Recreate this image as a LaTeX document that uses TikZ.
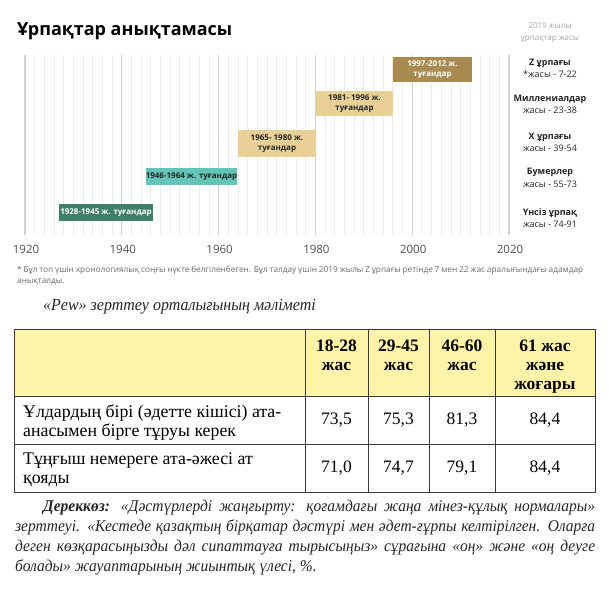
\documentclass[tikz,border=0pt]{standalone}
\usepackage{fontspec}
\setmainfont{Liberation Serif}
\newfontfamily\os{Open Sans}
\newfontfamily\narrowserif[FakeStretch=0.94]{Liberation Serif}
\definecolor{goldbar}{HTML}{A98B4F}
\definecolor{tanbar}{HTML}{E9D096}
\definecolor{tealbar}{HTML}{63C5B7}
\definecolor{greenbar}{HTML}{3F7F6C}
\definecolor{hdrfill}{HTML}{FFF4AA}
\definecolor{gridminor}{HTML}{EDEDED}
\definecolor{gridmajor}{HTML}{D2D2D2}
\definecolor{tblline}{HTML}{3A3A3A}
\definecolor{darktxt}{HTML}{262626}
\begin{document}
\begin{tikzpicture}[x=1pt,y=-1pt,
  minorline/.style={draw=gridminor,line width=0.8pt},
  majorline/.style={draw=gridmajor,line width=1.3pt},
  barbox/.style={rectangle,inner sep=0pt,align=center,font=\os\bfseries\fontsize{8}{10}\selectfont},
  yearlbl/.style={font=\os\fontsize{11.5}{13}\selectfont,text=black!68,inner sep=0pt},
  genname/.style={font=\os\bfseries\fontsize{9}{11}\selectfont,text=darktxt,inner sep=0pt},
  genage/.style={font=\os\fontsize{9}{11}\selectfont,text=darktxt,inner sep=0pt},
  hdrtxt/.style={font=\bfseries\fontsize{17.5}{19}\selectfont,align=center,inner sep=0pt,anchor=north},
  valtxt/.style={font=\fontsize{17.5}{19}\selectfont,inner sep=0pt},
  rowtxt/.style={font=\fontsize{17.8}{19}\selectfont,align=left,inner sep=0pt,anchor=north west},
  tbl/.style={draw=tblline,line width=0.9pt}
]
\useasboundingbox[fill=white] (0,0) rectangle (609,593);

% title
\node[anchor=base west,inner sep=0pt,font=\os\bfseries\fontsize{18}{20}\selectfont] (title) at (17,36) {Ұрпақтар анықтамасы};

% right column header
\node[inner sep=0pt,font=\os\fontsize{8}{10}\selectfont,text=black!35] (hd1) at (550,26) {2019 жылы};
\node[inner sep=0pt,font=\os\fontsize{8}{10}\selectfont,text=black!35] (hd2) at (550,39) {ұрпақтар жасы};

% grid
\foreach \i in {0,...,50} {\draw[minorline] ({25+\i*9.68},55) -- ({25+\i*9.68},235);}
\foreach \i/\yr in {0/1920,1/1940,2/1960,3/1980,4/2000,5/2020} {
  \draw[majorline] ({25+\i*96.8},55) -- ({25+\i*96.8},235);
  \node[yearlbl] (y\yr) at ({26+\i*96.8},249) {\yr};
}

% bars
\node[barbox,fill=goldbar,text=white,minimum width=79pt,minimum height=25pt] (b5) at (432.5,69.5) {1997-2012 ж.\\туғандар};
\node[barbox,fill=tanbar,text=darktxt,minimum width=77pt,minimum height=25pt] (b4) at (354.5,103.5) {1981- 1996 ж.\\туғандар};
\node[barbox,fill=tanbar,text=darktxt,minimum width=78pt,minimum height=27pt] (b3) at (277,143.5) {1965- 1980 ж.\\туғандар};
\node[barbox,fill=tealbar,text=darktxt,minimum width=91pt,minimum height=17pt] (b2) at (191.5,176.5) {1946-1964 ж. туғандар};
\node[barbox,fill=greenbar,text=white,minimum width=94pt,minimum height=17pt] (b1) at (106,212.5) {1928-1945 ж. туғандар};

% generations
\node[genname] (g5) at (550,63) {Z ұрпағы};
\node[genage] (a5) at (550,74.5) {*жасы - 7-22};
\node[genname] (g4) at (550,99) {Миллениалдар};
\node[genage] (a4) at (550,110.5) {жасы - 23-38};
\node[genname] (g3) at (550,137) {X ұрпағы};
\node[genage] (a3) at (550,148.5) {жасы - 39-54};
\node[genname] (g2) at (550,172) {Бумерлер};
\node[genage] (a2) at (550,184) {жасы - 55-73};
\node[genname] (g1) at (550,213) {Үнсіз ұрпақ};
\node[genage] (a1) at (550,224.5) {жасы - 74-91};

% footnote
\node[anchor=north west,inner sep=0pt,text width=566pt,align=justify,font=\os\fontsize{8.3}{11}\selectfont,text=black!58] (fn) at (17,266)
 {* Бұл топ үшін хронологиялық соңғы нүкте белгіленбеген. Бұл талдау үшін 2019 жылы Z ұрпағы ретінде 7 мен 22 жас аралығындағы адамдар\linebreak анықталды.};

% Pew
\node[anchor=base west,inner sep=0pt,font=\narrowserif\itshape\fontsize{17}{19}\selectfont,text=darktxt] (pew) at (43,310) {«Pew» зерттеу орталығының мәліметі};

% table
\fill[hdrfill] (14,329) rectangle (595,396);
\draw[tbl] (14,329) rectangle (595,492);
\draw[tbl] (14,396) -- (595,396);
\draw[tbl] (14,444) -- (595,444);
\foreach \cx in {305,368,429,495} {\draw[tbl] (\cx,329) -- (\cx,492);}

\node[hdrtxt] (h1) at (336.5,340) {18-28\\жас};
\node[hdrtxt] (h2) at (398.5,340) {29-45\\жас};
\node[hdrtxt] (h3) at (462,340) {46-60\\жас};
\node[hdrtxt] (h4) at (545,340) {61 жас\\және\\жоғары};

\node[rowtxt] (r1) at (23,405) {Ұлдардың бірі (әдетте кішісі) ата-\\анасымен бірге тұруы керек};
\node[rowtxt] (r2) at (23,453) {Тұңғыш немереге ата-әжесі ат\\қояды};

\node[valtxt] (v11) at (336.5,420) {73,5};
\node[valtxt] (v12) at (398.5,420) {75,3};
\node[valtxt] (v13) at (462,420) {81,3};
\node[valtxt] (v14) at (545,420) {84,4};
\node[valtxt] (v21) at (336.5,468) {71,0};
\node[valtxt] (v22) at (398.5,468) {74,7};
\node[valtxt] (v23) at (462,468) {79,1};
\node[valtxt] (v24) at (545,468) {84,4};

% source
\node[anchor=north west,inner sep=0pt,text width=580pt,align=justify,font=\narrowserif\itshape\fontsize{16.5}{20}\selectfont,text=darktxt] (src) at (15,500)
 {\hspace*{28pt}\textbf{Дереккөз:} «Дәстүрлерді жаңғырту: қоғамдағы жаңа мінез-құлық нормалары»\linebreak зерттеуі. «Кестеде қазақтың бірқатар дәстүрі мен әдет-ғұрпы келтірілген. Оларға\linebreak деген көзқарасыңызды дәл сипаттауға тырысыңыз» сұрағына «оң» және «оң деуге\linebreak болады» жауаптарының жиынтық үлесі, \%.};
\end{tikzpicture}
\end{document}
